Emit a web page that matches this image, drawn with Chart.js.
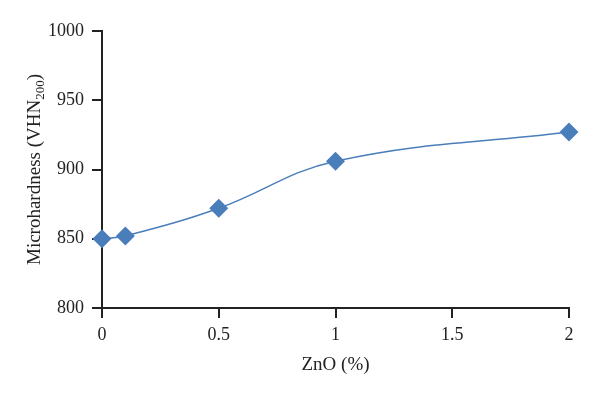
<!DOCTYPE html>
<html>
<head>
<meta charset="utf-8">
<script src="https://cdn.jsdelivr.net/npm/chart.js@4/dist/chart.umd.min.js"></script>
<style>
    html, body { margin: 0; padding: 0; background: #fff; }
    #wrap { width: 600px; height: 398px; }
</style>
</head>
<body>
<div id="wrap"><canvas id="hardnessChart"></canvas></div>
<script>
// ZnO content (%) and measured microhardness
const znoContent = [0, 0.1, 0.5, 1, 2];
const microhardness = [850, 852, 872, 906, 927];
const xTicks = [0, 0.5, 1, 1.5, 2];
const yTicks = [800, 850, 900, 950, 1000];

const FONT = "'Liberation Serif', 'Times New Roman', serif";
const BLUE = '#4a7ebb';

// y axis title with the subscript drawn smaller
const yTitlePlugin = {
    id: 'yTitle',
    afterDraw(chart) {
        const ctx = chart.ctx;
        const area = chart.chartArea;
        const parts = [
            { text: 'Microhardness (VHN', size: 19, dy: 0 },
            { text: '200', size: 13, dy: 4 },
            { text: ')', size: 19, dy: 0 }
        ];
        ctx.save();
        let total = 0;
        parts.forEach(p => {
            ctx.font = p.size + 'px ' + FONT;
            p.w = ctx.measureText(p.text).width;
            total += p.w;
        });
        ctx.translate(40, (area.top + area.bottom) / 2);
        ctx.rotate(-Math.PI / 2);
        ctx.fillStyle = '#222';
        ctx.textBaseline = 'alphabetic';
        let x = -total / 2;
        parts.forEach(p => {
            ctx.font = p.size + 'px ' + FONT;
            ctx.fillText(p.text, x, p.dy);
            x += p.w;
        });
        ctx.restore();
    }
};

const points = znoContent.map((x, i) => ({ x: x, y: microhardness[i] }));

new Chart(document.getElementById('hardnessChart'), {
    type: 'scatter',
    data: {
        datasets: [{
            data: points,
            showLine: true,
            tension: 0.4,
            clip: false,
            borderColor: BLUE,
            borderWidth: 1.5,
            backgroundColor: BLUE,
            pointStyle: 'rectRot',
            pointRadius: 9.5,
            pointHoverRadius: 9.5,
            pointBorderWidth: 0,
            pointBackgroundColor: BLUE
        }]
    },
    options: {
        responsive: true,
        maintainAspectRatio: false,
        animation: false,
        layout: { padding: { top: 31, right: 31, left: 0, bottom: 22 } },
        plugins: {
            legend: { display: false },
            tooltip: { enabled: false }
        },
        scales: {
            x: {
                type: 'linear',
                min: 0,
                max: 2,
                afterBuildTicks: s => { s.ticks = xTicks.map(v => ({ value: v })); },
                afterFit: s => { s.height = 68; },
                border: { display: true, color: '#222', width: 2 },
                grid: { drawOnChartArea: false, tickLength: 10, color: '#222', lineWidth: 2 },
                ticks: {
                    color: '#222',
                    padding: 6,
                    font: { family: FONT, size: 18 },
                    callback: v => String(v)
                },
                title: {
                    display: true,
                    text: 'ZnO (%)',
                    color: '#222',
                    padding: { top: 4, bottom: 0 },
                    font: { family: FONT, size: 19 }
                }
            },
            y: {
                min: 800,
                max: 1000,
                afterBuildTicks: s => { s.ticks = yTicks.map(v => ({ value: v })); },
                afterFit: s => { s.width = 102; },
                border: { display: true, color: '#222', width: 2 },
                grid: { drawOnChartArea: false, tickLength: 10, color: '#222', lineWidth: 2 },
                ticks: {
                    color: '#222',
                    padding: 8,
                    font: { family: FONT, size: 18 },
                    callback: v => String(v)
                }
            }
        }
    },
    plugins: [yTitlePlugin]
});
</script>
</body>
</html>
